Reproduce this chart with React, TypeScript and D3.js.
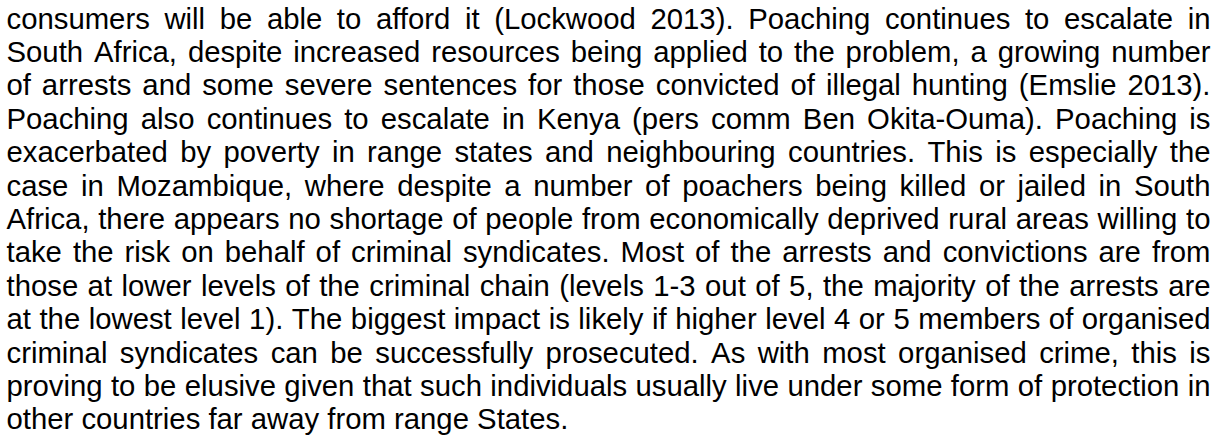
import React, { useMemo } from "react";
import * as d3 from "d3";

const lines: string[] = [
  "consumers will be able to afford it (Lockwood 2013). Poaching continues to escalate in",
  "South Africa, despite increased resources being applied to the problem, a growing number",
  "of arrests and some severe sentences for those convicted of illegal hunting (Emslie 2013).",
  "Poaching also continues to escalate in Kenya (pers comm Ben Okita-Ouma). Poaching is",
  "exacerbated by poverty in range states and neighbouring countries. This is especially the",
  "case in Mozambique, where despite a number of poachers being killed or jailed in South",
  "Africa, there appears no shortage of people from economically deprived rural areas willing to",
  "take the risk on behalf of criminal syndicates. Most of the arrests and convictions are from",
  "those at lower levels of the criminal chain (levels 1-3 out of 5, the majority of the arrests are",
  "at the lowest level 1). The biggest impact is likely if higher level 4 or 5 members of organised",
  "criminal syndicates can be successfully prosecuted. As with most organised crime, this is",
  "proving to be elusive given that such individuals usually live under some form of protection in",
  "other countries far away from range States.",
];

const W = 1222;
const H = 439;
const FONT_SIZE = 29.3;
const FONT_FAMILY = "'Liberation Sans', Arial, sans-serif";
const LEFT = 6.5;
const RIGHT = 1210.5;
const FIRST_BASELINE = 28.5;
const PITCH = 33.4;

export default function App() {
  const layout = useMemo(() => {
    const canvas = document.createElement("canvas");
    const ctx = canvas.getContext("2d")!;
    ctx.font = `${FONT_SIZE}px ${FONT_FAMILY}`;
    const spaceW = ctx.measureText(" ").width;
    const y = d3
      .scaleLinear()
      .domain([0, lines.length - 1])
      .range([FIRST_BASELINE, FIRST_BASELINE + PITCH * (lines.length - 1)]);
    const x = d3.scaleLinear().domain([0, 1]).range([LEFT, RIGHT]);
    return lines.map((line, i) => {
      const words = line.split(" ");
      const widths = words.map((w) => ctx.measureText(w).width);
      const total = d3.sum(widths);
      const isLast = i === lines.length - 1;
      const gap = isLast
        ? spaceW
        : (x(1) - x(0) - total) / Math.max(1, words.length - 1);
      let cx = x(0);
      const placed = words.map((w, j) => {
        const px = cx;
        cx += widths[j] + gap;
        return { w, x: px };
      });
      return { y: y(i), words: placed };
    });
  }, []);

  return (
    <>
      <style>{`body{margin:0;background:#fff}`}</style>
      <svg width={W} height={H} style={{ display: "block", background: "#fff" }}>
        <rect width={W} height={H} fill="#fff" />
        <g fontFamily={FONT_FAMILY} fontSize={FONT_SIZE} fill="#000">
          {layout.map((ln, i) =>
            ln.words.map((wd, j) => (
              <text key={`${i}-${j}`} x={wd.x} y={ln.y}>
                {wd.w}
              </text>
            ))
          )}
        </g>
      </svg>
    </>
  );
}
